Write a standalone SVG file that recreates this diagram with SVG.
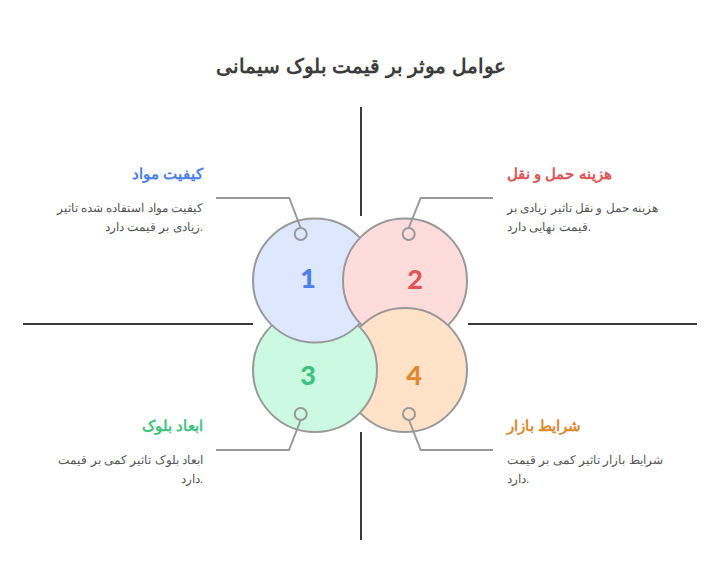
<svg xmlns="http://www.w3.org/2000/svg" width="721" height="576" viewBox="0 0 721 576">
<defs>
<style>
.axis{stroke:#3a3a3a;stroke-width:2;fill:none}
.conn{stroke:#999;stroke-width:2;fill:none}
.pin{stroke:#999;stroke-width:2;fill:none}
.ring{stroke:#999;stroke-width:2}
.num{font-family:"Lato","Open Sans",sans-serif;font-weight:900;font-size:27px;text-anchor:middle}
.head{font-family:"Liberation Sans","Noto Sans",sans-serif;font-weight:bold;font-size:15px}
.body{font-family:"Liberation Sans","Noto Sans",sans-serif;font-size:12px;fill:#555}
.title{font-family:"Liberation Sans","Noto Sans",sans-serif;font-weight:bold;font-size:20px;fill:#3d3d3d;text-anchor:middle}
</style>
<clipPath id="c2clip"><circle cx="405" cy="280.5" r="64.5"/></clipPath>
</defs>
<rect width="721" height="576" fill="#ffffff"/>
<text class="title" x="361" y="73">عوامل موثر بر قیمت بلوک سیمانی</text>
<g id="axes">
<line class="axis" x1="361" y1="107" x2="361" y2="216"/>
<line class="axis" x1="361" y1="432" x2="361" y2="540"/>
<line class="axis" x1="23" y1="324" x2="253" y2="324"/>
<line class="axis" x1="468" y1="324" x2="697" y2="324"/>
</g>
<g id="circles">
<g id="node4"><circle class="ring" cx="405" cy="370" r="62" fill="#ffe2c8"/></g>
<g id="node3"><circle class="ring" cx="315" cy="370" r="62" fill="#cbf9e2"/></g>
<g id="node1"><circle class="ring" cx="315" cy="280.5" r="62" fill="#dde8ff"/></g>
<g id="node2"><circle class="ring" cx="405" cy="280.5" r="62" fill="#ffdcdc"/></g>
<g id="node4-overlap" clip-path="url(#c2clip)"><circle class="ring" cx="405" cy="370" r="62" fill="#ffe2c8"/></g>
</g>
<g id="numbers">
<text class="num" x="308" y="288" fill="#4a80e8">1</text>
<text class="num" x="415" y="289" fill="#e05555">2</text>
<text class="num" x="308" y="385" fill="#3cc47c">3</text>
<text class="num" x="414" y="385" fill="#e0882e">4</text>
</g>
<g id="connectors">
<polyline class="conn" points="300.7,228 289.3,198 216,198"/>
<polyline class="conn" points="408.7,228 420.7,198 493,198"/>
<polyline class="conn" points="300.7,420 289,450 216,450"/>
<polyline class="conn" points="409,420 420.7,450 493,450"/>
<circle class="pin" cx="300.7" cy="234" r="6" fill="#dde8ff"/>
<circle class="pin" cx="408.7" cy="234" r="6" fill="#ffdcdc"/>
<circle class="pin" cx="300.7" cy="414" r="6" fill="#cbf9e2"/>
<circle class="pin" cx="409" cy="414" r="6" fill="#ffe2c8"/>
</g>
<g id="label1">
<text class="head" x="203" y="179" text-anchor="end" fill="#4a80e8">کیفیت مواد</text>
<text class="body" x="203" y="212" text-anchor="end">کیفیت مواد استفاده شده تاثیر</text>
<text class="body" x="203" y="231" text-anchor="end">زیادی بر قیمت دارد.</text>
</g>
<g id="label2">
<text class="head" x="507" y="179" text-anchor="start" fill="#e05555">هزینه حمل و نقل</text>
<text class="body" x="507" y="212" text-anchor="start">هزینه حمل و نقل تاثیر زیادی بر</text>
<text class="body" x="507" y="231" text-anchor="start">قیمت نهایی دارد.</text>
</g>
<g id="label3">
<text class="head" x="203" y="431" text-anchor="end" fill="#3cc47c">ابعاد بلوک</text>
<text class="body" x="203" y="464" text-anchor="end">ابعاد بلوک تاثیر کمی بر قیمت</text>
<text class="body" x="203" y="483" text-anchor="end">دارد.</text>
</g>
<g id="label4">
<text class="head" x="507" y="431" text-anchor="start" fill="#e0882e">شرایط بازار</text>
<text class="body" x="507" y="464" text-anchor="start">شرایط بازار تاثیر کمی بر قیمت</text>
<text class="body" x="507" y="483" text-anchor="start">دارد.</text>
</g>
</svg>
